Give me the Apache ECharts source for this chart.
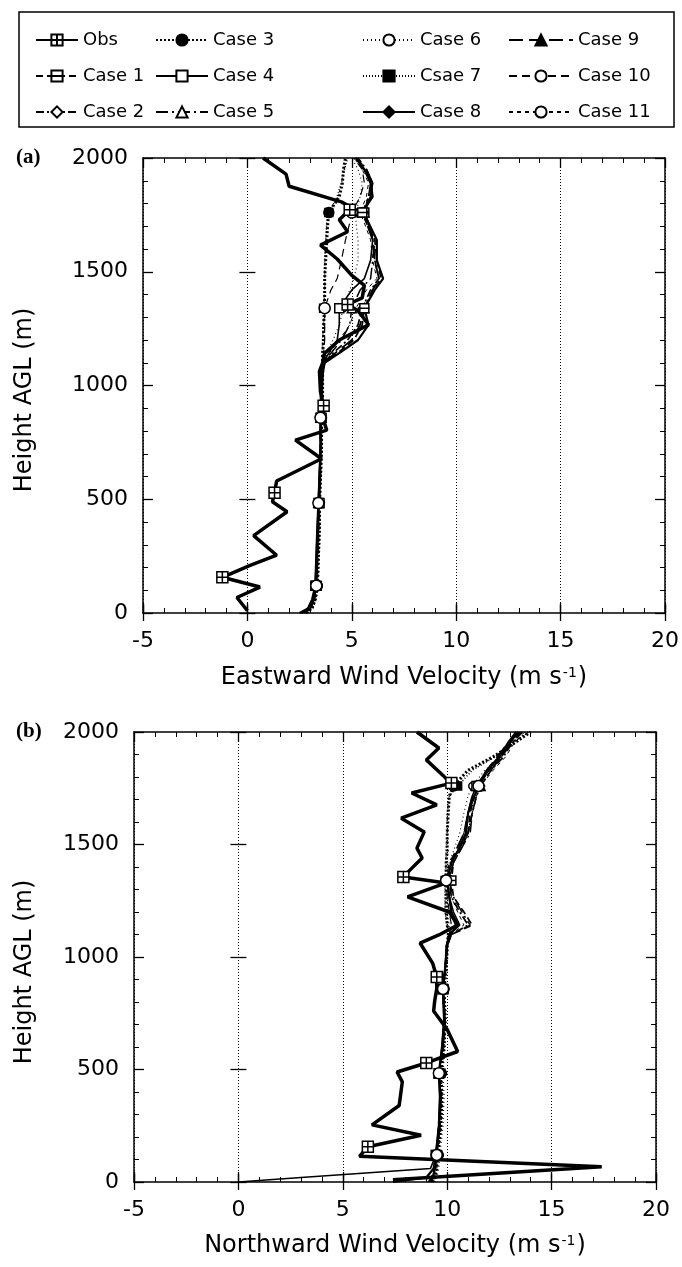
<!DOCTYPE html>
<html><head><meta charset="utf-8">
<script src="https://cdn.jsdelivr.net/npm/echarts/dist/echarts.min.js"></script>
<style>html,body{margin:0;padding:0;background:#fff}#c{width:682px;height:1267px}</style>
</head><body><div id="c"></div>
<script>
// ---------------- DATA ----------------
const xTicks = [-5, 0, 5, 10, 15, 20];
const yTicks = [0, 500, 1000, 1500, 2000];

const obsHeights = [10, 68, 114, 157, 208, 254, 340, 445, 489, 529, 580, 678, 760, 804, 860, 911, 973, 1062, 1098, 1142, 1200, 1267, 1329, 1356, 1385, 1440, 1484, 1556, 1617, 1676, 1729, 1773, 1787, 1807, 1876, 1929, 2000];
const obsEast  = [0.0, -0.5, 0.6, -1.2, 0.1, 1.4, 0.3, 1.9, 1.2, 1.3, 1.4, 3.55, 2.3, 3.8, 3.6, 3.65, 3.5, 3.45, 3.6, 3.7, 4.4, 5.8, 5.3, 4.8, 5.5, 5.6, 5.0, 4.3, 3.5, 4.8, 4.4, 4.9, 4.9, 4.5, 2.0, 1.85, 0.75];
const obsNorth = [7.4, 17.4, 5.8, 6.2, 8.75, 6.4, 7.7, 7.85, 7.6, 9.0, 10.5, 10.0, 9.35, 9.4, 9.5, 9.5, 9.3, 8.7, 9.6, 10.5, 10.1, 8.1, 9.95, 7.9, 8.2, 8.8, 8.55, 8.9, 7.8, 9.5, 8.3, 10.2, 10.0, 9.8, 9.0, 9.6, 8.55];
const obsMarkerIdx = [3, 9, 15, 23, 31];

const caseHeights = [0, 20, 60, 120, 250, 380, 483, 600, 720, 858, 950, 1050, 1100, 1142, 1200, 1267, 1340, 1420, 1470, 1550, 1640, 1715, 1760, 1830, 1890, 1950, 2000];
const caseMarkerIdx = [3, 6, 9, 16, 22];

const case1East  = [2.6, 3.0, 3.2, 3.3, 3.35, 3.4, 3.45, 3.5, 3.5, 3.55, 3.55, 3.6, 3.7, 4.3, 5.1, 5.5, 5.6, 6.0, 6.4, 6.2, 6.1, 5.7, 5.5, 5.9, 5.9, 5.6, 5.2];
const case2East  = [2.7, 3.0, 3.2, 3.3, 3.35, 3.4, 3.4, 3.45, 3.5, 3.5, 3.55, 3.55, 3.65, 4.1, 4.8, 5.3, 5.5, 5.9, 6.3, 6.1, 6.0, 5.8, 5.6, 5.8, 6.0, 5.7, 5.3];
const case3East  = [2.8, 3.1, 3.25, 3.35, 3.4, 3.45, 3.45, 3.5, 3.55, 3.55, 3.6, 3.6, 3.6, 3.6, 3.65, 3.65, 3.7, 3.7, 3.7, 3.75, 3.8, 3.85, 3.9, 4.4, 4.55, 4.6, 4.7];
const case4East  = [2.6, 2.9, 3.15, 3.25, 3.3, 3.35, 3.4, 3.45, 3.5, 3.5, 3.5, 3.55, 3.6, 3.9, 4.3, 4.4, 4.4, 5.0, 5.6, 5.9, 6.0, 5.8, 5.6, 5.9, 6.0, 5.6, 5.2];
const case5East  = [2.7, 3.0, 3.2, 3.3, 3.35, 3.4, 3.45, 3.5, 3.5, 3.55, 3.55, 3.6, 3.65, 4.0, 4.5, 4.9, 5.0, 5.4, 5.9, 6.0, 6.1, 5.7, 5.5, 5.8, 5.9, 5.6, 5.1];
const case6East  = [2.9, 3.1, 3.3, 3.4, 3.45, 3.5, 3.5, 3.55, 3.6, 3.6, 3.6, 3.65, 3.7, 3.8, 4.1, 4.4, 4.6, 4.9, 5.1, 5.3, 5.3, 5.2, 5.2, 5.4, 5.5, 5.3, 5.0];
const case7East  = [2.8, 3.05, 3.25, 3.35, 3.4, 3.45, 3.45, 3.5, 3.55, 3.55, 3.6, 3.6, 3.6, 3.6, 3.6, 3.65, 3.65, 3.7, 3.7, 3.7, 3.75, 3.8, 3.9, 4.3, 4.5, 4.65, 4.8];
const case8East  = [2.5, 2.9, 3.1, 3.25, 3.3, 3.35, 3.4, 3.45, 3.5, 3.5, 3.55, 3.6, 3.7, 4.4, 5.3, 5.8, 5.6, 6.1, 6.5, 6.2, 6.2, 5.8, 5.5, 6.0, 5.9, 5.6, 5.2];
const case9East  = [2.6, 3.0, 3.2, 3.3, 3.35, 3.4, 3.4, 3.45, 3.5, 3.5, 3.55, 3.6, 3.65, 4.2, 5.0, 5.4, 5.6, 6.0, 6.3, 6.1, 6.0, 5.7, 5.6, 5.9, 6.0, 5.7, 5.2];
const case10East = [2.7, 3.0, 3.2, 3.3, 3.35, 3.4, 3.4, 3.45, 3.5, 3.5, 3.55, 3.55, 3.6, 3.65, 3.7, 3.7, 3.7, 4.0, 4.3, 4.5, 4.7, 4.9, 5.0, 5.4, 5.6, 5.5, 5.1];
const case11East = [2.75, 3.05, 3.2, 3.3, 3.35, 3.4, 3.45, 3.5, 3.5, 3.55, 3.6, 3.6, 3.65, 3.9, 4.4, 4.9, 5.2, 5.7, 6.2, 6.0, 5.9, 5.6, 5.4, 5.7, 5.8, 5.5, 5.1];

const case1North  = [9.2, 9.3, 9.4, 9.5, 9.65, 9.7, 9.6, 9.8, 9.9, 9.8, 9.9, 10.0, 10.2, 11.2, 10.8, 10.3, 10.2, 10.3, 10.6, 11.0, 11.1, 11.3, 11.5, 12.0, 12.6, 13.0, 13.5];
const case2North  = [9.1, 9.25, 9.4, 9.5, 9.6, 9.7, 9.6, 9.8, 9.85, 9.8, 9.9, 10.0, 10.2, 11.0, 10.6, 10.2, 10.1, 10.2, 10.5, 11.0, 11.2, 11.4, 11.6, 12.1, 12.7, 13.1, 13.6];
const case3North  = [9.3, 9.4, 9.5, 9.55, 9.7, 9.75, 9.7, 9.85, 9.9, 9.85, 9.95, 10.0, 10.05, 10.0, 9.95, 9.95, 9.95, 9.95, 10.0, 10.0, 10.05, 10.1, 10.3, 11.0, 12.2, 13.2, 14.0];
const case4North  = [0.0, 3.0, 9.2, 9.45, 9.6, 9.65, 9.6, 9.75, 9.85, 9.8, 9.9, 9.95, 10.1, 10.6, 10.3, 10.1, 10.0, 10.2, 10.5, 10.9, 11.0, 11.2, 11.4, 11.9, 12.5, 13.0, 13.4];
const case5North  = [9.2, 9.3, 9.45, 9.5, 9.65, 9.7, 9.6, 9.8, 9.9, 9.8, 9.9, 10.0, 10.2, 11.1, 10.7, 10.3, 10.1, 10.3, 10.6, 11.1, 11.2, 11.4, 11.6, 12.1, 12.6, 13.1, 13.6];
const case6North  = [9.4, 9.5, 9.6, 9.65, 9.8, 9.85, 9.8, 9.9, 9.95, 9.9, 10.0, 10.05, 10.1, 10.1, 10.0, 10.0, 10.0, 10.1, 10.3, 10.6, 10.8, 11.0, 11.2, 11.8, 12.5, 13.1, 13.8];
const case7North  = [9.3, 9.4, 9.5, 9.55, 9.7, 9.75, 9.7, 9.85, 9.9, 9.85, 9.95, 10.0, 10.05, 10.0, 9.9, 9.9, 9.9, 9.95, 9.95, 10.0, 10.0, 10.1, 10.5, 11.2, 12.3, 13.1, 13.9];
const case8North  = [7.4, 9.0, 9.35, 9.45, 9.6, 9.65, 9.6, 9.75, 9.85, 9.8, 9.9, 10.0, 10.15, 10.5, 10.2, 10.1, 10.0, 10.2, 10.5, 10.9, 11.0, 11.3, 11.5, 11.9, 12.5, 12.9, 13.3];
const case9North  = [9.2, 9.3, 9.4, 9.5, 9.6, 9.7, 9.6, 9.8, 9.85, 9.8, 9.9, 10.0, 10.1, 10.4, 10.2, 10.1, 10.0, 10.2, 10.4, 10.8, 11.0, 11.2, 11.4, 11.9, 12.4, 12.9, 13.4];
const case10North = [9.25, 9.35, 9.45, 9.5, 9.65, 9.7, 9.6, 9.8, 9.9, 9.8, 9.9, 10.0, 10.1, 10.2, 10.1, 10.0, 9.95, 10.1, 10.4, 10.8, 11.0, 11.3, 11.5, 12.0, 12.6, 13.0, 13.5];
const case11North = [9.2, 9.3, 9.4, 9.5, 9.65, 9.7, 9.65, 9.8, 9.9, 9.8, 9.9, 10.0, 10.15, 10.8, 10.5, 10.2, 10.1, 10.3, 10.6, 11.0, 11.2, 11.4, 11.6, 12.2, 12.8, 13.2, 13.7];

const legendColumns = [
  ['Obs', 'Case 1', 'Case 2'],
  ['Case 3', 'Case 4', 'Case 5'],
  ['Case 6', 'Csae 7', 'Case 8'],
  ['Case 9', 'Case 10', 'Case 11']
];

// ---------------- STYLE ----------------
const FONT = 'DejaVu Sans';
const BLACK = '#000';
const boxCross = 'path://M0,0L10,0L10,10L0,10Z M5,0L5,10 M0,5L10,5';
const boxBar = 'path://M0,0L10,0L10,10L0,10Z M0,5L10,5';

const defs = [
  {name: 'Case 11', e: case11East, n: case11North, w: 1, t: [4, 4], sym: 'none', sz: 0, fill: '#fff'},
  {name: 'Case 9', e: case9East, n: case9North, w: 1.8, t: [14, 6], sym: 'triangle', sz: 9, fill: BLACK},
  {name: 'Case 8', e: case8East, n: case8North, w: 2.2, t: 'solid', sym: 'diamond', sz: 9, fill: BLACK},
  {name: 'Csae 7', e: case7East, n: case7North, w: 1.6, t: [1, 2], sym: 'rect', sz: 8, fill: BLACK},
  {name: 'Case 6', e: case6East, n: case6North, w: 1.1, t: [1, 3], sym: 'circle', sz: 7, fill: '#fff'},
  {name: 'Case 5', e: case5East, n: case5North, w: 1.5, t: [12, 4, 2, 4], sym: 'triangle', sz: 9, fill: '#fff'},
  {name: 'Case 4', e: case4East, n: case4North, w: 1.6, t: 'solid', sym: 'rect', sz: 9, fill: '#fff'},
  {name: 'Case 3', e: case3East, n: case3North, w: 3, t: [2, 2], sym: 'circle', sz: 10, fill: BLACK},
  {name: 'Case 2', e: case2East, n: case2North, w: 1.7, t: [8, 3, 2, 3], sym: 'diamond', sz: 8, fill: '#fff'},
  {name: 'Case 1', e: case1East, n: case1North, w: 1.7, t: [7, 4], sym: boxBar, sz: 9, fill: '#fff'},
  {name: 'Case 10', e: case10East, n: case10North, w: 1.2, t: [8, 5], sym: 'circle', sz: 11, fill: '#fff'}
];

function pts(hs, vs, marks) {
  return hs.map((h, i) => marks.indexOf(i) >= 0 ? [vs[i], h] : {value: [vs[i], h], symbol: 'none'});
}

function mkSeries(d, hs, vs, marks, p) {
  return {
    type: 'line', name: d.name, xAxisIndex: p * 4, yAxisIndex: p * 4,
    data: pts(hs, vs, marks),
    symbol: d.sym, symbolSize: d.sz, showSymbol: true, showAllSymbol: true,
    lineStyle: {color: BLACK, width: d.w, type: d.t},
    itemStyle: {color: d.fill, borderColor: BLACK, borderWidth: 1.5},
    emphasis: {disabled: true}, animation: false, clip: true, smooth: false
  };
}

const series = [];
[0, 1].forEach(p => {
  defs.forEach(d => series.push(mkSeries(d, caseHeights, p === 0 ? d.e : d.n, caseMarkerIdx, p)));
  series.push(mkSeries({name: 'Obs', w: 3.5, t: 'solid', sym: boxCross, sz: 11, fill: '#fff'},
    obsHeights, p === 0 ? obsEast : obsNorth, obsMarkerIdx, p));
});

const tickLine = {color: BLACK, width: 1.3};
const labelFont = {fontSize: 22, fontFamily: FONT, color: BLACK};
function xAxes(g, title, gap) {
  const base = {gridIndex: g, type: 'value', min: xTicks[0], max: xTicks[xTicks.length - 1], interval: 5};
  const line = {show: true, onZero: false, lineStyle: {color: BLACK, width: 1.5}};
  return [
    Object.assign({}, base, {position: 'bottom', name: title, nameLocation: 'middle', nameGap: gap,
      nameTextStyle: {rich: {t: {fontSize: 24, fontFamily: FONT, color: BLACK}, s: {fontSize: 14, fontFamily: FONT, color: BLACK, verticalAlign: 'top', padding: [0, 1, 0, 1]}}},
      axisLine: line, axisTick: {show: true, inside: true, length: 10, lineStyle: tickLine},
      minorTick: {show: true, splitNumber: 5, length: 5, lineStyle: {color: BLACK, width: 1}},
      axisLabel: Object.assign({show: true, margin: 17}, labelFont),
      splitLine: {show: true, lineStyle: {color: BLACK, width: 1, type: [1, 2]}}}),
    Object.assign({}, base, {position: 'top', axisLine: line, axisTick: {show: true, inside: true, length: 10, lineStyle: tickLine},
      minorTick: {show: true, splitNumber: 5, length: 5, lineStyle: {color: BLACK, width: 1}},
      axisLabel: {show: false}, splitLine: {show: false}}),
    Object.assign({}, base, {position: 'bottom', axisLine: {show: false}, axisTick: {show: true, inside: false, length: 8, lineStyle: tickLine},
      axisLabel: {show: false}, splitLine: {show: false}}),
    Object.assign({}, base, {position: 'top', axisLine: {show: false}, axisTick: {show: true, inside: false, length: 8, lineStyle: tickLine},
      axisLabel: {show: false}, splitLine: {show: false}})
  ];
}
function yAxes(g) {
  const base = {gridIndex: g, type: 'value', min: yTicks[0], max: yTicks[yTicks.length - 1], interval: 500};
  const line = {show: true, onZero: false, lineStyle: {color: BLACK, width: 1.5}};
  return [
    Object.assign({}, base, {position: 'left', axisLine: line, axisTick: {show: true, inside: true, length: 10, lineStyle: tickLine},
      minorTick: {show: true, splitNumber: 5, length: 5, lineStyle: {color: BLACK, width: 1}},
      axisLabel: Object.assign({show: true, margin: 15, formatter: v => String(v)}, labelFont), splitLine: {show: false}}),
    Object.assign({}, base, {position: 'right', axisLine: line, axisTick: {show: true, inside: true, length: 10, lineStyle: tickLine},
      minorTick: {show: true, splitNumber: 5, length: 5, lineStyle: {color: BLACK, width: 1}},
      axisLabel: {show: false}, splitLine: {show: false}}),
    Object.assign({}, base, {position: 'left', axisLine: {show: false}, axisTick: {show: true, inside: false, length: 8, lineStyle: tickLine},
      axisLabel: {show: false}, splitLine: {show: false}}),
    Object.assign({}, base, {position: 'right', axisLine: {show: false}, axisTick: {show: true, inside: false, length: 8, lineStyle: tickLine},
      axisLabel: {show: false}, splitLine: {show: false}})
  ];
}

const legendLeft = [30, 150, 357, 503];
const legendItemW = [42, 52, 52, 64];
const legends = legendColumns.map((names, i) => ({
  data: names, orient: 'vertical', left: legendLeft[i], top: 24, itemGap: 14,
  itemWidth: legendItemW[i], itemHeight: 14, selectedMode: false,
  textStyle: {fontSize: 18, fontFamily: FONT, color: BLACK, lineHeight: 22}
}));

const option = {
  backgroundColor: '#fff',
  animation: false,
  legend: legends,
  grid: [
    {left: 143, right: 17, top: 158, height: 455, outerBoundsMode: 'none'},
    {left: 134, right: 26, top: 732, height: 450, outerBoundsMode: 'none'}
  ],
  xAxis: xAxes(0, '{t|Eastward Wind Velocity (m s}{s|-1}{t|)}', 53).concat(xAxes(1, '{t|Northward Wind Velocity (m s}{s|-1}{t|)}', 52)),
  yAxis: yAxes(0).concat(yAxes(1)),
  series: series,
  graphic: [
    {type: 'rect', shape: {x: 19, y: 12, width: 655, height: 115}, style: {fill: 'none', stroke: BLACK, lineWidth: 1.5}},
    {type: 'text', x: 25, y: 400, rotation: Math.PI / 2, style: {text: 'Height AGL (m)', fontSize: 24, fontFamily: FONT, fill: BLACK, align: 'center', verticalAlign: 'middle'}},
    {type: 'text', x: 25, y: 972, rotation: Math.PI / 2, style: {text: 'Height AGL (m)', fontSize: 24, fontFamily: FONT, fill: BLACK, align: 'center', verticalAlign: 'middle'}},
    {type: 'text', x: 16, y: 158, style: {text: '(a)', fontSize: 21, fontWeight: 'bold', fontFamily: 'Liberation Serif', fill: BLACK, align: 'left', verticalAlign: 'middle'}},
    {type: 'text', x: 16, y: 732, style: {text: '(b)', fontSize: 21, fontWeight: 'bold', fontFamily: 'Liberation Serif', fill: BLACK, align: 'left', verticalAlign: 'middle'}}
  ]
};

const chart = echarts.init(document.getElementById('c'), null, {renderer: 'canvas'});
chart.setOption(option);
</script></body></html>
